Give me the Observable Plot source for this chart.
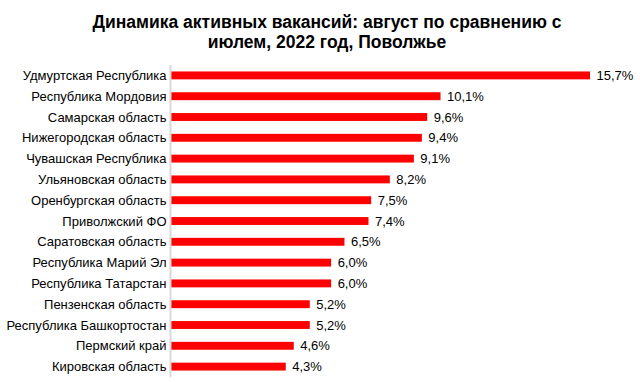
<!DOCTYPE html>
<html>
<head>
<meta charset="utf-8">
<script src="https://cdn.jsdelivr.net/npm/d3@7"></script>
<script src="https://cdn.jsdelivr.net/npm/@observablehq/plot@0.6"></script>
<style>
  html, body { margin: 0; padding: 0; background: #fff; }
  body { width: 640px; height: 382px; overflow: hidden; font-family: "Liberation Sans", Arial, sans-serif; }
  #title { height: 62px; box-sizing: border-box; padding-top: 12px; padding-left: 14px; text-align: center; font-weight: bold; font-size: 18px; line-height: 20px; color: #000; white-space: nowrap; }
  #chart svg { display: block; }
</style>
</head>
<body>
<div id="title"><span id="t1">Динамика активных вакансий: август по сравнению с</span><br><span>июлем, 2022 год, Поволжье</span></div>
<div id="chart"></div>
<script>
const regions = [
  "Удмуртская Республика",
  "Республика Мордовия",
  "Самарская область",
  "Нижегородская область",
  "Чувашская Республика",
  "Ульяновская область",
  "Оренбургская область",
  "Приволжский ФО",
  "Саратовская область",
  "Республика Марий Эл",
  "Республика Татарстан",
  "Пензенская область",
  "Республика Башкортостан",
  "Пермский край",
  "Кировская область"
];
const values = [15.7, 10.1, 9.6, 9.4, 9.1, 8.2, 7.5, 7.4, 6.5, 6.0, 6.0, 5.2, 5.2, 4.6, 4.3];

// fit title font so the first line is about 469px wide, as in the reference
(function fitTitle() {
  const ctx = document.createElement("canvas").getContext("2d");
  ctx.font = 'bold 100px "Liberation Sans", Arial, sans-serif';
  const w = ctx.measureText(document.getElementById("t1").textContent).width;
  if (w > 0) {
    const f = Math.max(15, Math.min(20, 469 * 100 / w));
    document.getElementById("title").style.fontSize = f.toFixed(2) + "px";
  }
})();

const data = regions.map((r, i) => ({region: r, value: values[i]}));
const fmt = v => v.toFixed(1).replace(".", ",") + "%";

const chart = Plot.plot({
  width: 640,
  height: 320,
  marginTop: 3,
  marginBottom: 5,
  marginLeft: 171,
  marginRight: 42,
  style: {fontFamily: "Liberation Sans, Arial, sans-serif", fontSize: "13px", color: "#000", background: "#fff"},
  x: {domain: [0, 16], axis: null},
  y: {domain: regions, paddingInner: 0.62, paddingOuter: 0.31, align: 0.5, round: false, axis: null},
  marks: [
    Plot.barX(data, {x: "value", y: "region", fill: "#ff0000"}),
    Plot.ruleX([0], {stroke: "#d9d9d9", strokeWidth: 2, dx: -1}),
    Plot.text(data, {x: "value", y: "region", text: d => fmt(d.value), textAnchor: "start", dx: 6, fill: "#000", fontSize: 13}),
    Plot.axisY({tickSize: 0, tickPadding: 5, label: null, fontSize: 13, fill: "#000"})
  ]
});
document.getElementById("chart").appendChild(chart);
</script>
</body>
</html>
